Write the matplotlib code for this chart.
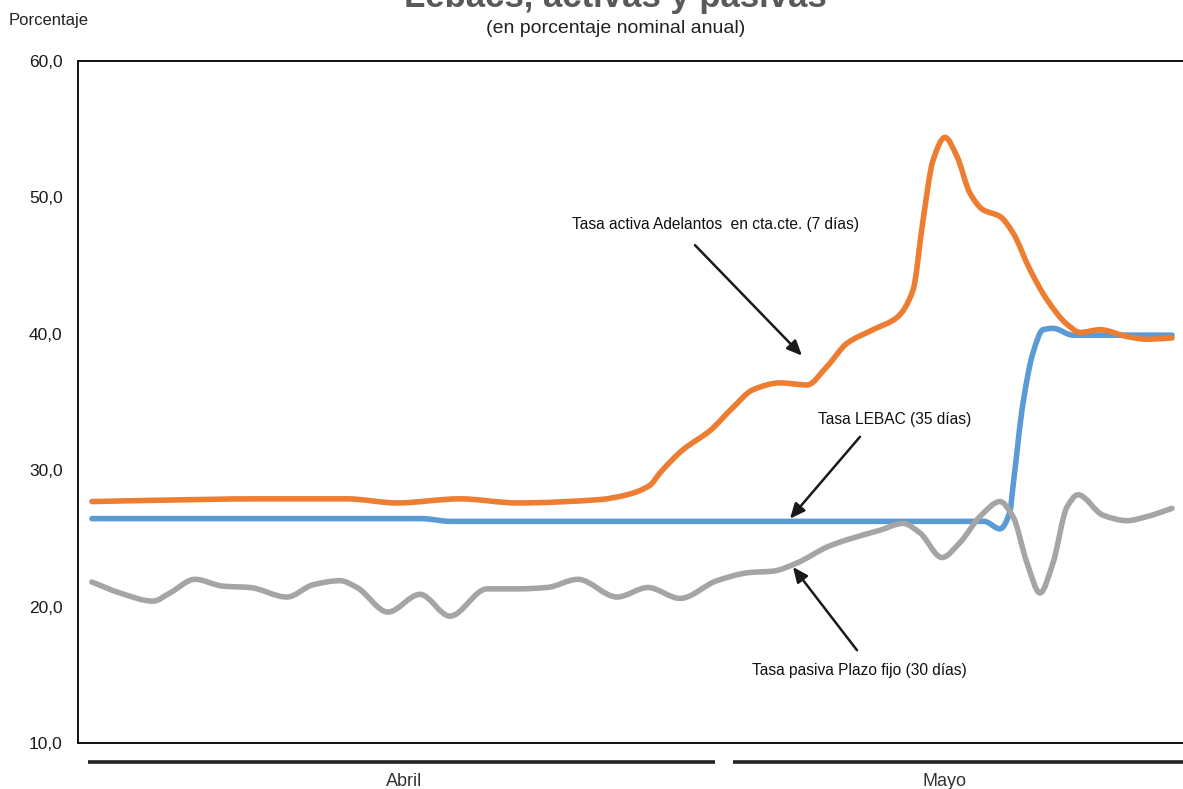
import matplotlib.pyplot as plt
from matplotlib.path import Path
from matplotlib.patches import PathPatch

plt.rcParams['font.family'] = ['Liberation Sans', 'DejaVu Sans']

# días aproximados desde el inicio de abril (eje continuo)
dias_pasiva = [0.0, 1.4, 3.05, 3.9, 5.15, 6.55, 7.9, 9.75, 11.05, 12.4, 13.25, 14.8,
               16.4, 17.9, 19.75, 21.25, 22.75, 24.3, 26.25, 27.8, 29.4, 31.25, 32.9,
               34.05, 35.25, 36.8, 37.75, 39.4, 40.55, 41.4, 42.5, 43.4, 44.4, 45.4,
               46.05, 46.75, 47.4, 48.05, 48.75, 49.3, 50.55, 51.75, 52.75, 54.0]
tasa_pasiva = [21.8, 21.0, 20.4, 21.0, 22.0, 21.5, 21.4, 20.7, 21.6, 21.9, 21.4, 19.6,
               20.9, 19.3, 21.3, 21.3, 21.4, 22.0, 20.7, 21.4, 20.6, 21.9, 22.5,
               22.6, 23.2, 24.4, 24.9, 25.6, 26.1, 25.4, 23.6, 24.7, 26.6, 27.7,
               26.6, 23.2, 21.0, 23.2, 27.3, 28.2, 26.7, 26.3, 26.6, 27.2]

dias_activa = [0.0, 3.4, 8.25, 12.75, 15.25, 18.4, 21.25, 25.4, 26.75, 27.9, 28.4,
               29.55, 30.9, 32.05, 33.05, 34.4, 35.75, 36.75, 37.75, 39.05, 40.25,
               41.05, 41.55, 42.05, 42.65, 43.25, 43.9, 44.55, 45.4, 46.05, 46.9,
               47.75, 48.75, 49.4, 50.4, 51.75, 52.75, 54.0]
tasa_activa = [27.7, 27.8, 27.9, 27.9, 27.6, 27.9, 27.6, 27.85, 28.2, 28.9, 29.8,
               31.5, 32.9, 34.6, 35.9, 36.4, 36.25, 37.6, 39.3, 40.3, 41.2,
               43.2, 48.3, 52.7, 54.4, 53.0, 50.3, 49.1, 48.6, 47.4, 44.7,
               42.5, 40.7, 40.1, 40.3, 39.8, 39.6, 39.7]

dias_lebac = [0.0, 16.5, 17.9, 44.6, 45.4, 45.9, 46.05, 46.55, 47.05, 47.55, 48.05,
              49.05, 54.0]
tasa_lebac = [26.45, 26.45, 26.25, 26.25, 25.7, 27.0, 28.8, 34.9, 38.6, 40.3, 40.4,
              39.9, 39.9]

meses = ['Abril', 'Mayo']
meses_inicio = [-0.2, 32.05]
meses_fin = [31.15, 54.55]
meses_centro = [15.6, 42.65]


def pendientes(xs, ys):
    """Pendientes monotonas (Fritsch-Carlson) en cada punto."""
    n = len(xs)
    h = [xs[i + 1] - xs[i] for i in range(n - 1)]
    d = [(ys[i + 1] - ys[i]) / h[i] for i in range(n - 1)]
    m = [d[0]] + [0.0] * (n - 2) + [d[-1]]
    for i in range(1, n - 1):
        if d[i - 1] * d[i] > 0:
            w1 = 2 * h[i] + h[i - 1]
            w2 = h[i] + 2 * h[i - 1]
            m[i] = (w1 + w2) / (w1 / d[i - 1] + w2 / d[i])
    return m


def linea_suave(ax, xs, ys, color, zorder):
    """Dibuja la serie como curva suavizada con tramos Bezier cubicos."""
    m = pendientes(xs, ys)
    verts = [(xs[0], ys[0])]
    codes = [Path.MOVETO]
    for i in range(len(xs) - 1):
        h = xs[i + 1] - xs[i]
        verts += [(xs[i] + h / 3, ys[i] + m[i] * h / 3),
                  (xs[i + 1] - h / 3, ys[i + 1] - m[i + 1] * h / 3),
                  (xs[i + 1], ys[i + 1])]
        codes += [Path.CURVE4] * 3
    patch = PathPatch(Path(verts, codes), facecolor='none', edgecolor=color,
                      lw=4.0, capstyle='round', joinstyle='round',
                      transform=ax.transData, zorder=zorder)
    ax.add_patch(patch)


fig = plt.figure(figsize=(11.83, 7.89), dpi=100)
ax = fig.add_axes([0.0659, 0.0583, 0.9341, 0.8644])

linea_suave(ax, dias_lebac, tasa_lebac, '#5B9BD5', 2)
linea_suave(ax, dias_activa, tasa_activa, '#ED7D31', 3)
linea_suave(ax, dias_pasiva, tasa_pasiva, '#A5A5A5', 3)

ax.set_xlim(-0.7, 54.55)
ax.set_ylim(10, 60)
ax.set_yticks([10, 20, 30, 40, 50, 60])
ax.set_yticklabels(['10,0', '20,0', '30,0', '40,0', '50,0', '60,0'])
ax.tick_params(axis='y', length=0, pad=11, labelsize=12.5, labelcolor='#1a1a1a')
ax.set_xticks([])
for s in ['left', 'top', 'bottom']:
    ax.spines[s].set_linewidth(1.4)
    ax.spines[s].set_color('#111111')
ax.spines['right'].set_visible(False)

# barras de meses bajo el eje
trans = ax.get_xaxis_transform()
for mes, x0, x1, xc in zip(meses, meses_inicio, meses_fin, meses_centro):
    ax.plot([x0, x1], [-0.028, -0.028], transform=trans, color='#222222', lw=2.6,
            clip_on=False, solid_capstyle='butt')
    ax.text(xc, -0.056, mes, transform=trans, ha='center', va='center',
            fontsize=13, color='#333333')

# anotaciones con flechas
flecha = dict(arrowstyle='-|>,head_length=0.9,head_width=0.4', color='#1a1a1a',
              lw=1.8, shrinkA=0, shrinkB=0)
ax.annotate('', xy=(35.5, 38.4), xytext=(30.15, 46.5), arrowprops=flecha)
ax.text(24.0, 48.0, 'Tasa activa Adelantos  en cta.cte. (7 días)', fontsize=11.2,
        ha='left', va='center', color='#111111')

ax.annotate('', xy=(34.9, 26.45), xytext=(38.4, 32.45), arrowprops=flecha)
ax.text(36.3, 33.75, 'Tasa LEBAC (35 días)', fontsize=11.2, ha='left',
        va='center', color='#111111')

ax.annotate('', xy=(35.05, 22.9), xytext=(38.25, 16.8), arrowprops=flecha)
ax.text(33.0, 15.35, 'Tasa pasiva Plazo fijo (30 días)', fontsize=11.2, ha='left',
        va='center', color='#111111')

fig.text(0.007, 0.974, 'Porcentaje', fontsize=12, ha='left', va='center',
         color='#222222')
fig.text(0.52, 0.991, 'Lebacs, activas y pasivas', fontsize=25, fontweight='bold',
         ha='center', va='baseline', color='#595959')
fig.text(0.52, 0.964, '(en porcentaje nominal anual)', fontsize=14, ha='center',
         va='center', color='#222222')

fig.savefig('out.png', dpi=100)
